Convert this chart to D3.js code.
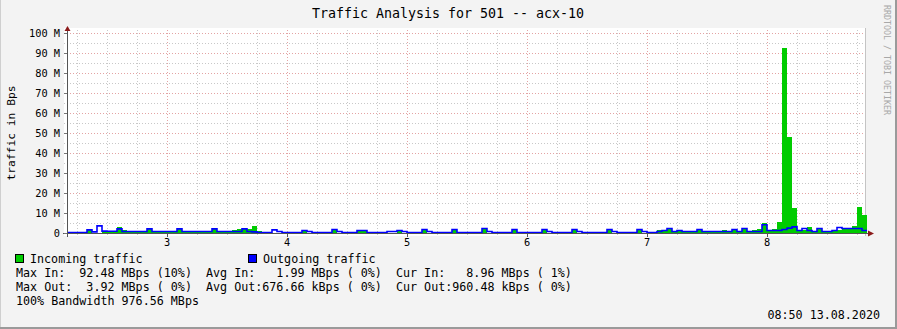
<!DOCTYPE html>
<html>
<head>
<meta charset="utf-8">
<script src="https://cdn.jsdelivr.net/npm/d3@7/dist/d3.min.js"></script>
<style>
  body { margin: 0; background: #f3f3f3; }
  text { font-family: "DejaVu Sans Mono", monospace; fill: #000; }
</style>
</head>
<body>
<div id="vizArea"></div>
<script>
// hourly samples, MBytes/s, first sample at day 2 + 4h
var startDay = 2 + 4 / 24;
var inTraffic = [
  0.6, 0, 0, 0, 1.3, 0, 0.2, 0.9, 0.9, 0.9,
  3.0, 1.5, 1.0, 1.0, 0.5, 0.5, 1.8, 0.3, 0.3, 0.3,
  0.3, 0.3, 1.8, 0.3, 0.3, 0.3, 0.3, 0.3, 0.3, 1.8,
  0.3, 0.3, 1.0, 1.5, 2.0, 2.5, 2.0, 3.5, 1.0, 0,
  0, 0.2, 0, 0, 0, 0.5, 0, 1.0, 0.2, 0,
  0, 0, 0, 1.5, 0.2, 0, 0, 0, 1.5, 1.0,
  0, 0, 0, 0, 0.2, 0.2, 1.0, 0.2, 0, 0,
  0, 1.5, 0.2, 0, 0, 0, 0, 1.5, 0, 0,
  0, 0, 0, 2.0, 0.2, 0, 0, 0, 0, 1.5,
  0, 0, 0, 0, 0, 1.5, 0.2, 0, 0, 0,
  0, 1.5, 0.2, 0, 0, 0, 0, 0, 1.5, 0.2,
  0, 0, 0, 0, 1.5, 0.2, 0, 0, 1.5, 1.0,
  2.0, 0.3, 1.0, 0.3, 0.3, 0.3, 1.5, 0.3, 0.3, 0.3,
  0.3, 1.5, 0.3, 1.5, 0.3, 2.0, 0.3, 1.5, 2.0, 4.8,
  1.5, 2.0, 5.5, 92.5, 48, 12.5, 1.0, 1.5, 3.0, 1.0,
  2.5, 1.0, 1.0, 1.0, 1.5, 2.0, 2.5, 3.5, 13.2, 9.0
];
var outTraffic = [
  0, 0, 0, 0, 1.3, 0.3, 3.3, 0.7, 0.6, 0.6,
  1.8, 0.5, 0.5, 0.5, 0.5, 0.5, 1.8, 0.5, 0.5, 0.5,
  0.5, 0.5, 1.8, 0.5, 0.5, 0.5, 0.5, 0.5, 0.5, 1.8,
  0.5, 0.5, 0.5, 0.5, 0.5, 1.8, 0.5, 0.3, 0, 0,
  0, 1.3, 0.5, 0, 0, 0, 0, 1.0, 0.5, 0,
  0, 0, 0, 1.5, 0.5, 0, 0, 0, 1.0, 1.0,
  0, 0, 0, 0, 0.5, 0.5, 1.0, 0.5, 0, 0,
  0, 1.5, 0.5, 0, 0, 0, 0, 1.5, 0, 0,
  0, 0, 0, 2.0, 0.5, 0, 0, 0, 0, 1.5,
  0, 0, 0, 0, 0, 1.5, 0.5, 0, 0, 0,
  0, 1.5, 0.5, 0, 0, 0, 0, 0, 1.5, 0.5,
  0, 0, 0, 0, 1.5, 0.5, 0, 0, 0.5, 1.0,
  2.0, 0.5, 1.0, 0.5, 0.5, 0.5, 1.5, 0.5, 0.5, 0.5,
  0.5, 0.5, 0.5, 1.5, 0.5, 2.0, 0.5, 0.5, 0.5, 3.9,
  1.0, 1.0, 1.0, 1.5, 2.2, 2.8, 1.0, 2.0, 1.0, 0.5,
  2.0, 0.5, 0.5, 1.0, 2.5, 2.0, 2.0, 2.0, 2.0, 1.0
];
var dayTicks = [3, 4, 5, 6, 7, 8];
var yMajor = [0, 10, 20, 30, 40, 50, 60, 70, 80, 90, 100];
var yLabels = ["0", "10 M", "20 M", "30 M", "40 M", "50 M", "60 M", "70 M", "80 M", "90 M", "100 M"];
var legendItems = ["Incoming traffic", "Outgoing traffic"];
var legendColors = ["#00cc00", "#0000ff"];
var statLines = [
  "Max In:  92.48 MBps (10%)  Avg In:   1.99 MBps ( 0%)  Cur In:   8.96 MBps ( 1%)",
  "Max Out:  3.92 MBps ( 0%)  Avg Out:676.66 kBps ( 0%)  Cur Out:960.48 kBps ( 0%)",
  "100% Bandwidth 976.56 MBps"
];
var stamp = "08:50 13.08.2020";

var W = 897, H = 329;
var svg = d3.select("#vizArea").append("svg")
  .attr("width", W).attr("height", H);

svg.append("rect").attr("width", W).attr("height", H).attr("fill", "#f3f3f3");
// frame
svg.append("line").attr("x1", 0.5).attr("x2", 0.5).attr("y1", 0).attr("y2", H)
  .attr("stroke", "#cfcfcf");
svg.append("line").attr("x1", 0).attr("x2", W).attr("y1", H - 1).attr("y2", H - 1)
  .attr("stroke", "#9a9a9a").attr("stroke-width", 2);
svg.append("line").attr("x1", W - 1).attr("x2", W - 1).attr("y1", 0).attr("y2", H)
  .attr("stroke", "#9a9a9a").attr("stroke-width", 2);

var nHours = inTraffic.length;
var x = d3.scaleLinear().domain([startDay, startDay + nHours / 24]).range([67, 867]);
var y = d3.scaleLinear().domain([0, 100]).range([233, 33]);

// canvas
svg.append("rect").attr("x", 64).attr("y", 28).attr("width", 802).attr("height", 208)
  .attr("fill", "#fff");

// grid
var g = svg.append("g").attr("shape-rendering", "crispEdges");
var minorY = d3.range(0, 101, 5).filter(function (v) { return v % 10 !== 0; });
g.selectAll(".ymin").data(minorY).enter().append("line")
  .attr("x1", 64).attr("x2", 866)
  .attr("y1", function (d) { return Math.round(y(d)) + 0.5; })
  .attr("y2", function (d) { return Math.round(y(d)) + 0.5; })
  .attr("stroke", "#c8c8c8").attr("stroke-dasharray", "1,2");
var minorX = d3.range(9, 36).map(function (k) { return k / 4; })
  .filter(function (v) { return v > startDay && v < startDay + nHours / 24 && v % 1 !== 0; });
g.selectAll(".xmin").data(minorX).enter().append("line")
  .attr("y1", 30).attr("y2", 236)
  .attr("x1", function (d) { return Math.round(x(d)) + 0.5; })
  .attr("x2", function (d) { return Math.round(x(d)) + 0.5; })
  .attr("stroke", "#c8c8c8").attr("stroke-dasharray", "1,2");
g.selectAll(".ymaj").data(yMajor.slice(1)).enter().append("line")
  .attr("x1", 64).attr("x2", 866)
  .attr("y1", function (d) { return Math.round(y(d)) + 0.5; })
  .attr("y2", function (d) { return Math.round(y(d)) + 0.5; })
  .attr("stroke", "#e3a3a3").attr("stroke-dasharray", "1,2");
g.selectAll(".xmaj").data(dayTicks).enter().append("line")
  .attr("y1", 30).attr("y2", 236)
  .attr("x1", function (d) { return Math.round(x(d)) + 0.5; })
  .attr("x2", function (d) { return Math.round(x(d)) + 0.5; })
  .attr("stroke", "#e3a3a3").attr("stroke-dasharray", "1,2");
g.append("line").attr("x1", 865.5).attr("x2", 865.5).attr("y1", 28).attr("y2", 236)
  .attr("stroke", "#c4c4c4");

// series
var pts = d3.range(nHours + 1);
var val = function (arr, i) { return arr[Math.min(i, nHours - 1)]; };
var area = d3.area().curve(d3.curveStepAfter)
  .x(function (i) { return x(startDay + i / 24); })
  .y0(y(0))
  .y1(function (i) { return y(val(inTraffic, i)); });
svg.append("path").datum(pts).attr("d", area).attr("fill", "#00cc00")
  .attr("shape-rendering", "crispEdges");
var line = d3.line().curve(d3.curveStepAfter)
  .x(function (i) { return x(startDay + i / 24); })
  .y(function (i) { return y(val(outTraffic, i)) - 0.5; });
svg.append("path").datum(pts).attr("d", line).attr("fill", "none")
  .attr("stroke", "#0000ff").attr("stroke-width", 1.6);

// axes
var ax = svg.append("g").attr("shape-rendering", "crispEdges");
ax.append("line").attr("x1", 63).attr("x2", 868).attr("y1", 233.5).attr("y2", 233.5)
  .attr("stroke", "#555");
ax.append("line").attr("x1", 67.5).attr("x2", 67.5).attr("y1", 30).attr("y2", 237)
  .attr("stroke", "#555");
ax.selectAll(".yt").data(yMajor).enter().append("line")
  .attr("x1", 64).attr("x2", 67)
  .attr("y1", function (d) { return Math.round(y(d)) + 0.5; })
  .attr("y2", function (d) { return Math.round(y(d)) + 0.5; })
  .attr("stroke", "#777");
ax.selectAll(".xt").data(dayTicks).enter().append("line")
  .attr("y1", 233).attr("y2", 237)
  .attr("x1", function (d) { return Math.round(x(d)) + 0.5; })
  .attr("x2", function (d) { return Math.round(x(d)) + 0.5; })
  .attr("stroke", "#555");
svg.append("path").attr("d", "M64.5,31 L67.5,26 L70.5,31 Z").attr("fill", "#8b1a1a");
svg.append("path").attr("d", "M868,230.5 L874,233.5 L868,236.5 Z").attr("fill", "#8b1a1a");

svg.selectAll(".ylab").data(yMajor).enter().append("text")
  .attr("x", 60).attr("y", function (d) { return y(d) + 3.7; })
  .attr("text-anchor", "end").attr("font-size", "10.3px")
  .text(function (d, i) { return yLabels[i]; });
svg.selectAll(".xlab").data(dayTicks).enter().append("text")
  .attr("x", function (d) { return x(d); }).attr("y", 246)
  .attr("text-anchor", "middle").attr("font-size", "10.3px")
  .text(function (d) { return d; });

// titles
svg.append("text").attr("x", 448).attr("y", 18).attr("text-anchor", "middle")
  .attr("font-size", "13.3px").text("Traffic Analysis for 501 -- acx-10");
svg.append("text").attr("transform", "translate(15,133) rotate(-90)")
  .attr("text-anchor", "middle").attr("font-size", "11.3px").text("traffic in Bps");
svg.append("text").attr("transform", "translate(884,5) rotate(90)")
  .attr("font-size", "8.3px").style("fill", "#a8a8a8").text("RRDTOOL / TOBI OETIKER");

// legend
var leg = svg.selectAll(".leg").data(legendItems).enter().append("g")
  .attr("transform", function (d, i) { return "translate(" + (15 + i * 233) + ",254)"; });
leg.append("rect").attr("x", 0.5).attr("y", 0.5).attr("width", 8).attr("height", 8)
  .attr("fill", function (d, i) { return legendColors[i]; })
  .attr("stroke", "#000").attr("shape-rendering", "crispEdges");
leg.append("text").attr("x", 15).attr("y", 9).attr("font-size", "11.7px")
  .text(function (d) { return d; });
svg.selectAll(".stat").data(statLines).enter().append("text")
  .attr("x", 16).attr("y", function (d, i) { return 277 + i * 14; })
  .attr("font-size", "11.7px").attr("xml:space", "preserve")
  .style("white-space", "pre")
  .text(function (d) { return d; });
svg.append("text").attr("x", 880).attr("y", 319).attr("text-anchor", "end")
  .attr("font-size", "11.7px").text(stamp);
</script>
</body>
</html>
